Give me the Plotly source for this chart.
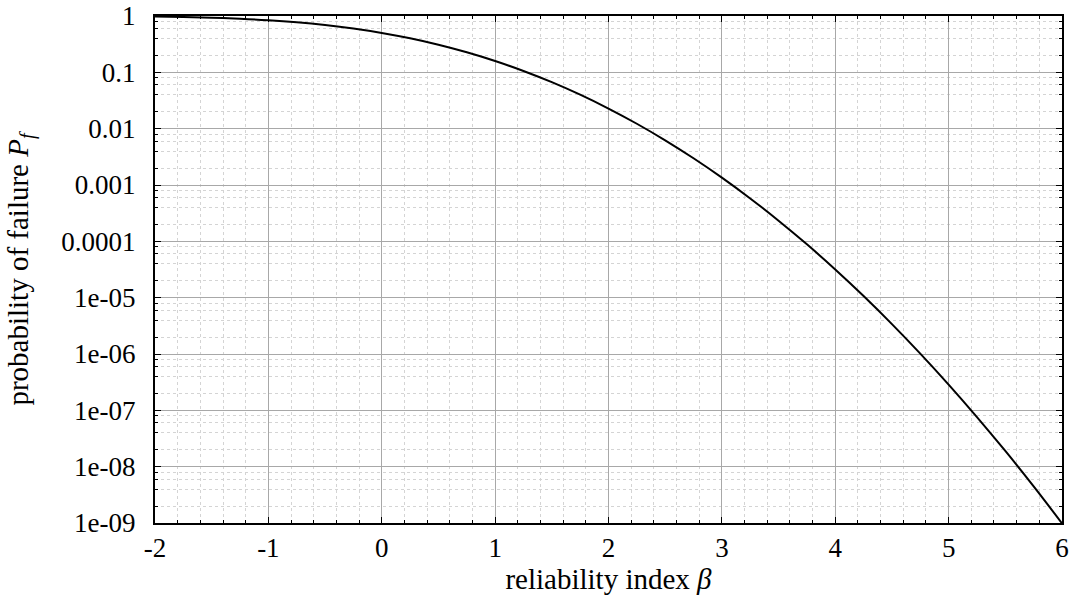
import plotly.graph_objects as go

# reliability index (x) and probability of failure (y)
beta = [-2.0, -1.75, -1.5, -1.25, -1.0, -0.75, -0.5, -0.25, 0.0, 0.25, 0.5, 0.75,
        1.0, 1.25, 1.5, 1.75, 2.0, 2.25, 2.5, 2.75, 3.0, 3.25, 3.5, 3.75,
        4.0, 4.25, 4.5, 4.75, 5.0, 5.25, 5.5, 5.75, 6.0]
pf = [0.97725, 0.95994, 0.93319, 0.89435, 0.84134, 0.77337, 0.69146, 0.59871,
      0.5, 0.40129, 0.30854, 0.22663, 0.15866, 0.10565, 0.066807, 0.040059,
      0.02275, 0.012224, 0.0062097, 0.0029798, 0.0013499, 0.00057703,
      0.00023263, 8.8417e-5, 3.1671e-5, 1.0689e-5, 3.3977e-6, 1.0171e-6,
      2.8665e-7, 7.605e-8, 1.899e-8, 4.4622e-9, 9.8659e-10]

x_ticks = [-2, -1, 0, 1, 2, 3, 4, 5, 6]
x_labels = ["-2", "-1", "0", "1", "2", "3", "4", "5", "6"]
y_ticks = [1, 0.1, 0.01, 0.001, 0.0001, 1e-5, 1e-6, 1e-7, 1e-8, 1e-9]
y_labels = ["1", "0.1", "0.01", "0.001", "0.0001", "1e-05", "1e-06", "1e-07", "1e-08", "1e-09"]

x_minor = [round(-2 + 0.2 * i, 2) for i in range(41)]
y_minor = [m * 10.0 ** e for e in range(-9, 0) for m in (2, 4, 6, 8)]

font_family = "Liberation Serif, serif"

fig = go.Figure()
fig.add_trace(go.Scatter(x=beta, y=pf, mode="lines",
                         line=dict(color="black", width=2, shape="spline"),
                         showlegend=False))

fig.update_layout(
    width=1078, height=597,
    margin=dict(l=155, r=16, t=16, b=74),
    plot_bgcolor="white", paper_bgcolor="white",
    font=dict(family=font_family, size=27, color="black"),
)
fig.update_xaxes(
    range=[-2, 6], tickmode="array", tickvals=x_ticks, ticktext=x_labels,
    automargin=False,
    showgrid=True, gridcolor="#a8a8a8", gridwidth=1,
    ticks="inside", ticklen=6, tickcolor="black", mirror="allticks",
    showline=True, linecolor="black", linewidth=2, zeroline=False,
    tickfont=dict(size=27), ticklabelstandoff=0,
    minor=dict(tickmode="array", tickvals=x_minor, showgrid=True,
               gridcolor="#d4d4d4", griddash="dot", gridwidth=1,
               ticks="inside", ticklen=3, tickcolor="black"),
    title=dict(text="reliability index <i>β</i>", font=dict(size=29), standoff=0),
)
fig.update_yaxes(
    type="log", range=[-9, 0], tickmode="array", tickvals=y_ticks, ticktext=y_labels,
    automargin=False,
    showgrid=True, gridcolor="#a8a8a8", gridwidth=1,
    ticks="inside", ticklen=6, tickcolor="black", mirror="allticks",
    showline=True, linecolor="black", linewidth=2, zeroline=False,
    tickfont=dict(size=27), ticklabelstandoff=12,
    minor=dict(tickmode="array", tickvals=y_minor, showgrid=True,
               gridcolor="#d4d4d4", griddash="dot", gridwidth=1,
               ticks="inside", ticklen=3, tickcolor="black"),
    title=dict(text="probability of failure <i>P</i><sub><i>f</i></sub>",
               font=dict(size=29), standoff=24),
)

fig.write_html("out.html")
